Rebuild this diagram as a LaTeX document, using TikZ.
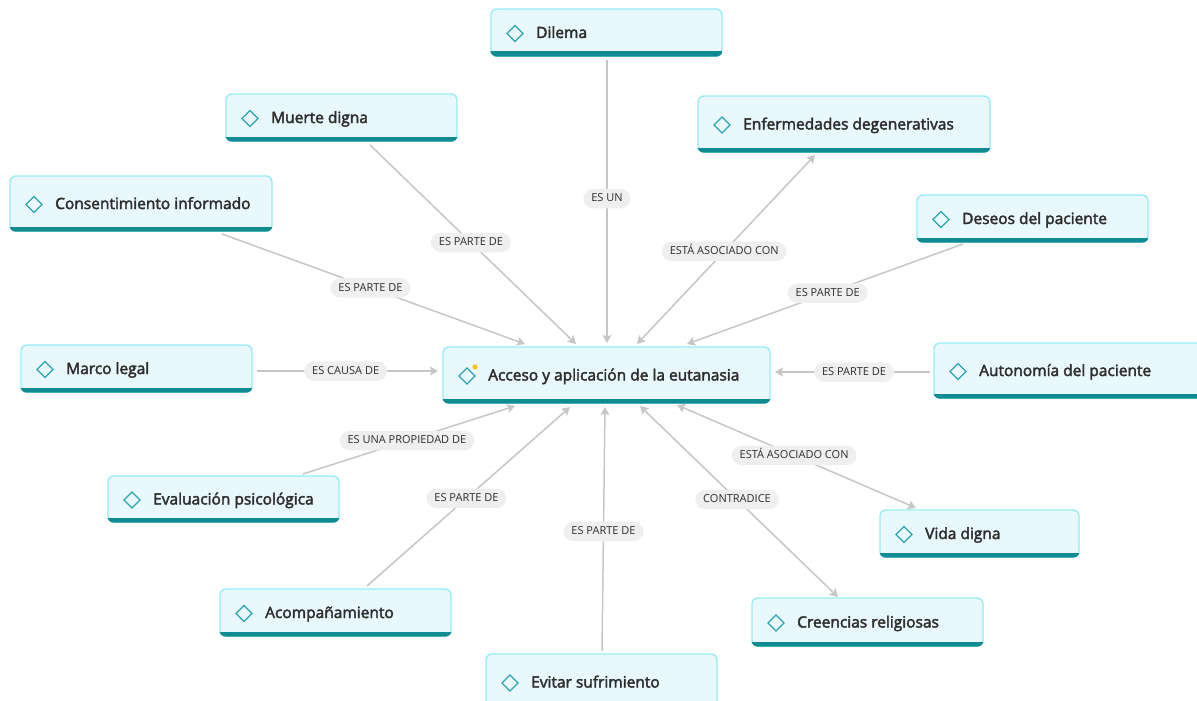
\documentclass[tikz,border=0pt]{standalone}
\usepackage{fontspec}
\setmainfont{Open Sans}
\newfontfamily\topicfont{Open Sans}[FakeBold=2.6]
\usetikzlibrary{calc,arrows.meta}

\definecolor{boxfill}{HTML}{E9F8FD}
\definecolor{boxline}{HTML}{96ECF9}
\definecolor{barteal}{HTML}{0E8C92}
\definecolor{icont}{HTML}{2BA5B4}
\definecolor{inktext}{HTML}{2E2E2E}
\definecolor{pillgray}{HTML}{EFEFEF}
\definecolor{wire}{HTML}{C6C6C6}
\definecolor{dotyellow}{HTML}{F5C518}

\tikzset{
  topicbox/.style={draw=boxline, line width=1.4pt, fill=boxfill, rounded corners=6pt,
    inner sep=0pt, outer sep=0pt},
  topiclabel/.style={inner sep=0pt, text=inktext, font=\topicfont\fontsize{15.5}{18}\selectfont,
    text height=11.5pt, text depth=3.5pt},
  icon/.style={draw=icont, line width=1.1pt, line join=miter},
  conn/.style={draw=wire, line width=1.5pt, -{Stealth[length=8pt,width=9pt,inset=1.5pt]}},
  both/.style={draw=wire, line width=1.5pt,
    {Stealth[length=8pt,width=9pt,inset=1.5pt]}-{Stealth[length=8pt,width=9pt,inset=1.5pt]}},
  rel/.style={fill=pillgray, rounded corners=10pt, inner xsep=8pt, inner ysep=5pt,
    text=inktext, font=\fontsize{11}{13}\selectfont, text height=8pt, text depth=1.5pt, pos=0.49},
}

% name, left, top, right, bottom, text
\newcommand\mapnode[6]{%
  \node[topicbox, anchor=north west, minimum width={#4-#2}, minimum height={#5-#3}] (#1) at (#2,#3) {};
  \begin{scope}
    \clip[rounded corners=6.6pt] ($(#1.north west)+(-0.7,-0.7)$) rectangle ($(#1.south east)+(0.7,0.7)$);
    \fill[barteal] ($(#1.south west)+(-1,-4.5)$) rectangle ($(#1.south east)+(1,1)$);
  \end{scope}
  \draw[icon] ($(#1.west)+(16,1)$) -- ++(8,-8) -- ++(8,8) -- ++(-8,8) -- cycle;
  \node[topiclabel, anchor=west] (#1-text) at ($(#1.west)+(45,1.5)$) {#6};
}

\begin{document}
\begin{tikzpicture}[x=1pt,y=-1pt]
\useasboundingbox (0,0) rectangle (1197,701);

% topics
\mapnode{dilema}{491}{9}{722}{56}{Dilema}
\mapnode{muerte}{226}{94}{457}{141}{Muerte digna}
\mapnode{enfer}{698}{96}{990}{152}{Enfermedades degenerativas}
\mapnode{consent}{10}{176}{272}{231}{Consentimiento informado}
\mapnode{deseos}{917}{195}{1148}{242}{Deseos del paciente}
\mapnode{marco}{21}{345}{252}{392}{Marco legal}
\mapnode{acceso}{443}{347}{770}{403}{Acceso y aplicación de la eutanasia}
\mapnode{autonomia}{934}{343}{1210}{398}{Autonomía del paciente}
\mapnode{evaluacion}{108}{476}{339}{522}{Evaluación psicológica}
\mapnode{vida}{880}{510}{1079}{557}{Vida digna}
\mapnode{acomp}{220}{589}{451}{636}{Acompañamiento}
\mapnode{creencias}{752}{598}{983}{646}{Creencias religiosas}
\mapnode{evitar}{486}{654}{717}{710}{Evitar sufrimiento}

% marker dot on the central topic
\fill[dotyellow] ($(acceso.west)+(32,-8)$) circle (2.6pt);

% relations
\draw[conn] ($(dilema.south)+(0.5,4)$) -- node[rel]{ES UN} ($(acceso.north)+(0.5,-4)$);
\draw[conn] ($(muerte.south)+(28.5,4)$) -- node[rel]{ES PARTE DE} ($(acceso.north)+(-30.5,-3)$);
\draw[both] ($(acceso.north)+(30.5,-3)$) -- node[rel]{ESTÁ ASOCIADO CON} ($(enfer.south)+(-29,3)$);
\draw[conn] ($(consent.south)+(81,3)$) -- node[rel]{ES PARTE DE} ($(acceso.north)+(-81.5,-3)$);
\draw[conn] ($(deseos.south)+(-69.5,2)$) -- node[rel]{ES PARTE DE} ($(acceso.north)+(80.5,-3)$);
\draw[conn] ($(marco.east)+(5,2.5)$) -- node[rel]{ES CAUSA DE} ($(acceso.west)+(-5,-4)$);
\draw[conn] ($(autonomia.west)+(-4,1.5)$) -- node[rel]{ES PARTE DE} ($(acceso.east)+(5,-3)$);
\draw[conn] ($(evaluacion.north)+(79.5,-2)$) -- node[rel]{ES UNA PROPIEDAD DE} ($(acceso.south)+(-91.5,3)$);
\draw[conn] ($(acomp.north)+(31.5,-3)$) -- node[rel]{ES PARTE DE} ($(acceso.south)+(-36.5,4)$);
\draw[conn] ($(evitar.north)+(0.5,-3)$) -- node[rel]{ES PARTE DE} ($(acceso.south)+(-1.5,4)$);
\draw[both] ($(acceso.south)+(33.5,3)$) -- node[rel]{CONTRADICE} ($(creencias.north)+(-29.5,-1)$);
\draw[both] ($(acceso.south)+(70.5,2)$) -- node[rel]{ESTÁ ASOCIADO CON} ($(vida.north)+(-63.5,-2)$);
\end{tikzpicture}
\end{document}
